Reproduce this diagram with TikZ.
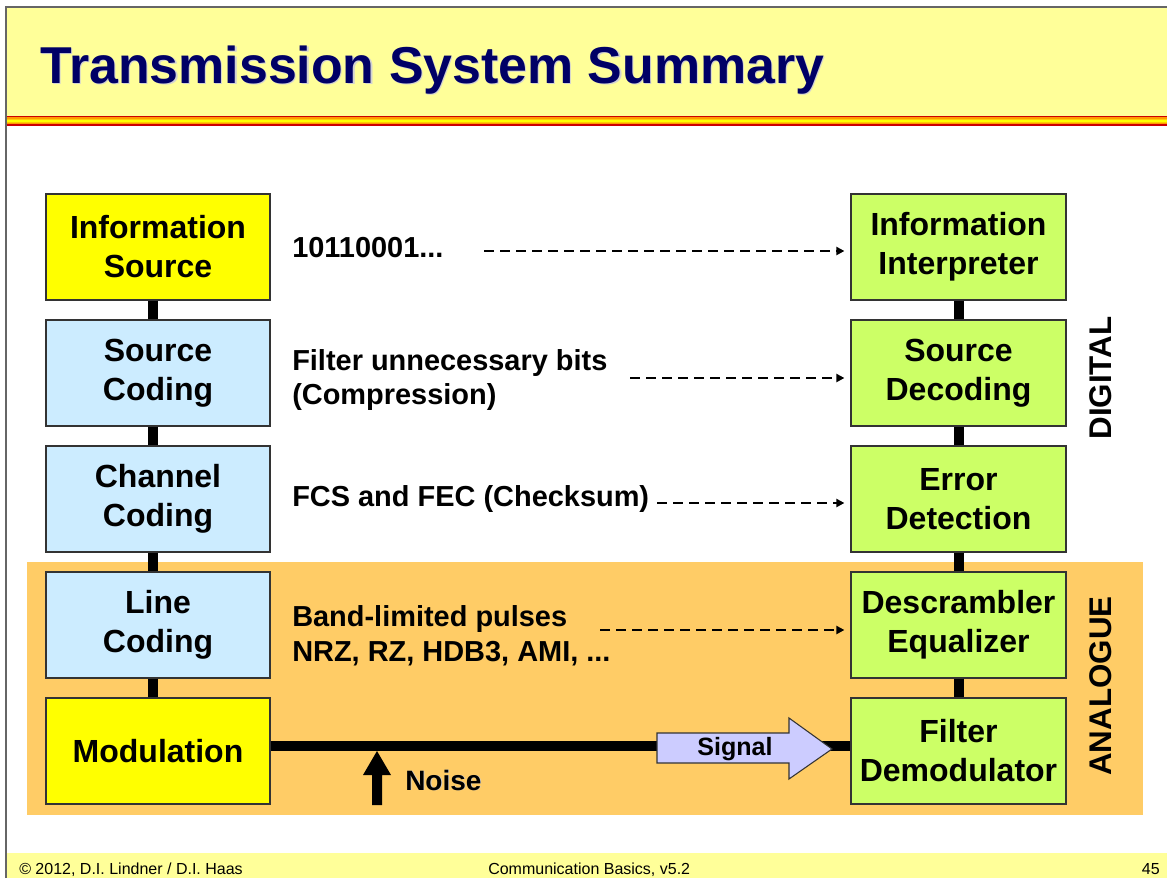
\documentclass[tikz,border=0pt]{standalone}
\usepackage{fontspec}
\setmainfont{Liberation Sans}
\usetikzlibrary{arrows.meta,calc}
\definecolor{hdr}{HTML}{FFFF99}
\definecolor{navy}{HTML}{000066}
\definecolor{frame}{HTML}{666666}
\definecolor{ana}{HTML}{FFCC66}
\definecolor{yel}{HTML}{FFFF00}
\definecolor{sky}{HTML}{CCECFF}
\definecolor{lime}{HTML}{CCFF66}
\definecolor{lav}{HTML}{CCCCFF}
\definecolor{boxline}{HTML}{333333}
\definecolor{stripered}{HTML}{CC0000}
\definecolor{stripeorange}{HTML}{FF9900}
\definecolor{stripegold}{HTML}{FFCC00}
\begin{document}
\begin{tikzpicture}[x=0.75pt,y=-0.75pt,
  blk/.style={draw=boxline, line width=0.9pt, inner sep=0pt, align=center,
    font=\fontsize{24}{29.3}\selectfont\bfseries, minimum height=79.5pt},
  lbox/.style={blk, minimum width=168pt},
  rbox/.style={blk, minimum width=161.25pt, fill=lime},
  bar/.style={line width=7.5pt},
  dsh/.style={line width=1.5pt, dash pattern=on 7.5pt off 4.5pt,
    -{Triangle[length=6pt,width=6pt]}, shorten >=4.5pt},
  mid/.style={anchor=west, align=left, inner sep=0pt,
    font=\fontsize{21.7}{26}\selectfont\bfseries},
  side/.style={rotate=90, inner sep=0pt, font=\fontsize{23.5}{28}\selectfont\bfseries},
  foot/.style={inner sep=0pt, font=\fontsize{12}{14}\selectfont}]
\useasboundingbox (0,0) rectangle (1167,878);

% slide frame, header and footer bands
\fill[hdr] (7,8) rectangle (1167,116);
\fill[stripered]    (7,116)   rectangle (1167,125.5);
\fill[stripeorange] (7,117.3) rectangle (1167,124.2);
\fill[stripegold]   (7,118.8) rectangle (1167,122.7);
\fill[yel]          (7,120)   rectangle (1167,121.5);
\fill[hdr] (7,853) rectangle (1167,878);
\draw[frame, line width=1.8pt] (6,878) -- (6,7) -- (1167,7);

% title
\node[anchor=base west, inner sep=0pt, text=gray!35,
  font=\fontsize{38.9}{44}\selectfont\bfseries] at (41.3,84.3) {Transmission System Summary};
\node[anchor=base west, inner sep=0pt, text=navy,
  font=\fontsize{38.9}{44}\selectfont\bfseries] (title) at (40,83) {Transmission System Summary};

% analogue region
\fill[ana] (26.5,562) rectangle (1143,815);

% transmitter and receiver chains
\node[lbox, fill=yel] (src)  at (158,247) {Information\\Source};
\node[lbox, fill=sky] (scod) at (158,373) {Source\\Coding};
\node[lbox, fill=sky] (ccod) at (158,499) {Channel\\Coding};
\node[lbox, fill=sky] (lcod) at (158,625) {Line\\Coding};
\node[lbox, fill=yel] (mod)  at (158,751) {Modulation};

\node[rbox] (intp) at (958.5,247) {Information\\Interpreter};
\node[rbox] (sdec) at (958.5,373) {Source\\Decoding};
\node[rbox] (errd) at (958.5,499) {Error\\Detection};
\node[rbox] (deq)  at (958.5,625) {Descrambler\\Equalizer};
\node[rbox] (fdem) at (958.5,751) {Filter\\Demodulator};

% links between the stages
\foreach \a/\b in {src/scod, scod/ccod, ccod/lcod, lcod/mod}
  \draw[bar] ([xshift=-3.75pt]\a.south) -- ([xshift=-3.75pt]\b.north);
\foreach \a/\b in {intp/sdec, sdec/errd, errd/deq, deq/fdem}
  \draw[bar] (\a.south) -- (\b.north);

% transmission line
\draw[bar] ([yshift=3.4pt]mod.east) -- ([yshift=3.4pt]fdem.west);

% signal block arrow
\draw[boxline, line width=0.8pt, fill=lav]
  (657,733) -- (789,733) -- (789,718) -- (832,749) -- (789,779) -- (789,763) -- (657,763) -- cycle;
\node[inner sep=0pt, font=\fontsize{18.8}{22}\selectfont\bfseries] (sig) at (735,749) {Signal};

% noise arrow
\fill[black] (377,751) -- (391,775) -- (382,775) -- (382,805) -- (372,805) -- (372,775) -- (363,775) -- cycle;
\node[anchor=base west, inner sep=0pt, text=gray!40,
  font=\fontsize{21}{25}\selectfont\bfseries] at (405.8,790.8) {Noise};
\node[anchor=base west, inner sep=0pt,
  font=\fontsize{21}{25}\selectfont\bfseries] (noise) at (405,790) {Noise};

% annotations with their dashed arrows
\node[mid] (t1) at (292,248) {10110001...};
\node[mid] (t2) at (292,380) {Filter unnecessary bits\\(Compression)};
\node[mid] (t3) at (292,499) {FCS and FEC (Checksum)};
\node[mid] (t4) at (292,636) {Band-limited pulses\\NRZ, RZ, HDB3, AMI, ...};

\coordinate (d1) at (484,251);
\coordinate (d2) at (630,378);
\coordinate (d3) at (657,503);
\coordinate (d4) at (600,630);
\draw[dsh] (d1) -- (intp.west |- d1);
\draw[dsh] (d2) -- (sdec.west |- d2);
\draw[dsh] (d3) -- (errd.west |- d3);
\draw[dsh] (d4) -- (deq.west |- d4);

% domain labels
\node[side] (dig) at (1101,378) {DIGITAL};
\node[side] (anl) at (1101,686) {ANALOGUE};

% footer
\node[foot, anchor=base west] (f1) at (19,874) {© 2012, D.I. Lindner / D.I. Haas};
\node[foot, anchor=base west] (f2) at (488,874) {Communication Basics, v5.2};
\node[foot, anchor=base east] (f3) at (1160,874) {45};
\end{tikzpicture}
\end{document}
